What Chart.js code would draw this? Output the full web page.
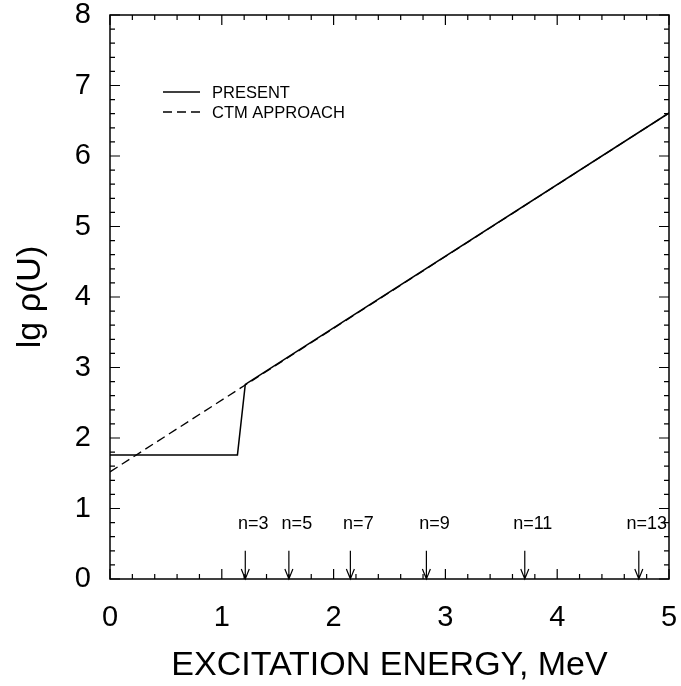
<!DOCTYPE html>
<html lang="en">
<head>
  <meta charset="UTF-8">
  <title>Level density</title>
  <script src="https://cdn.jsdelivr.net/npm/chart.js@4.4.1/dist/chart.umd.min.js"></script>
  <style>
    body { margin: 0; background: #fff; }
    #wrap { width: 681px; height: 686px; }
  </style>
</head>
<body>
  <div id="wrap"><canvas id="chart"></canvas></div>
  <script>
    // data
    const presentX = [0, 1.14, 1.21, 5];
    const presentY = [1.76, 1.76, 2.76, 6.61];
    const ctmX = [0, 5];
    const ctmY = [1.52, 6.61];
    const arrowX = [1.21, 1.60, 2.15, 2.83, 3.71, 4.73];
    const arrowLabels = ['n=3', 'n=5', 'n=7', 'n=9', 'n=11', 'n=13'];
    const xTicks = [0, 1, 2, 3, 4, 5];
    const yTicks = [0, 1, 2, 3, 4, 5, 6, 7, 8];

    const FONT = '"Liberation Sans", Arial, sans-serif';

    function pts(xs, ys) {
      return xs.map((x, i) => ({ x: x, y: ys[i] }));
    }

    // frame, inward ticks, arrows and legend
    const decor = {
      id: 'decor',
      afterDatasetsDraw(chart) {
        const { ctx, chartArea: a, scales: { x, y } } = chart;
        ctx.save();
        ctx.strokeStyle = '#000';
        ctx.lineWidth = 1.5;
        ctx.strokeRect(a.left, a.top, a.right - a.left, a.bottom - a.top);

        ctx.lineWidth = 1.2;
        ctx.beginPath();
        for (let i = 0; i <= 25; i++) {
          const px = x.getPixelForValue(i * 0.2);
          const len = (i % 5 === 0) ? 10 : 5;
          ctx.moveTo(px, a.bottom); ctx.lineTo(px, a.bottom - len);
          ctx.moveTo(px, a.top); ctx.lineTo(px, a.top + len);
        }
        for (let i = 0; i <= 40; i++) {
          const py = y.getPixelForValue(i * 0.2);
          const len = (i % 5 === 0) ? 10 : 5;
          ctx.moveTo(a.left, py); ctx.lineTo(a.left + len, py);
          ctx.moveTo(a.right, py); ctx.lineTo(a.right - len, py);
        }
        ctx.stroke();

        // arrows marking n
        ctx.font = '18px ' + FONT;
        ctx.fillStyle = '#000';
        ctx.textAlign = 'center';
        ctx.textBaseline = 'middle';
        arrowX.forEach((v, i) => {
          const px = x.getPixelForValue(v);
          const top = y.getPixelForValue(0.40);
          const bot = y.getPixelForValue(0);
          ctx.beginPath();
          ctx.moveTo(px, top); ctx.lineTo(px, bot);
          ctx.moveTo(px - 4, bot - 10); ctx.lineTo(px, bot); ctx.lineTo(px + 4, bot - 10);
          ctx.stroke();
          ctx.fillText(arrowLabels[i], px + 8, y.getPixelForValue(0.78));
        });

        // legend
        ctx.font = '16.5px ' + FONT;
        ctx.textAlign = 'left';
        chart.data.datasets.forEach((ds, i) => {
          const ly = 92 + i * 20;
          ctx.beginPath();
          ctx.lineWidth = ds.borderWidth;
          ctx.setLineDash(ds.borderDash || []);
          ctx.moveTo(163, ly); ctx.lineTo(200, ly);
          ctx.stroke();
          ctx.setLineDash([]);
          ctx.fillText(ds.label, 212, ly + 1);
        });
        ctx.restore();
      }
    };

    const chart = new Chart(document.getElementById('chart'), {
      type: 'scatter',
      data: {
        datasets: [{
          label: 'PRESENT',
          data: pts(presentX, presentY),
          showLine: true,
          borderColor: '#000',
          borderWidth: 1.5,
          pointRadius: 0
        }, {
          label: 'CTM APPROACH',
          data: pts(ctmX, ctmY),
          showLine: true,
          borderColor: '#000',
          borderWidth: 1.3,
          borderDash: [9, 5],
          pointRadius: 0
        }]
      },
      options: {
        responsive: true,
        maintainAspectRatio: false,
        animation: false,
        layout: { padding: { top: 15, right: 12, bottom: 0, left: 0 } },
        plugins: { legend: { display: false }, tooltip: { enabled: false } },
        scales: {
          x: {
            type: 'linear', min: 0, max: 5,
            afterBuildTicks: s => { s.ticks = xTicks.map(v => ({ value: v })); },
            afterFit: s => { s.height = 107; s.paddingLeft = 0; s.paddingRight = 0; },
            grid: { display: false },
            border: { display: false },
            ticks: { color: '#000', font: { family: FONT, size: 29 }, padding: 14 },
            title: {
              display: true, text: 'EXCITATION ENERGY, MeV', color: '#000',
              font: { family: FONT, size: 34 }, padding: { top: 2, bottom: 0 }
            }
          },
          y: {
            type: 'linear', min: 0, max: 8,
            afterBuildTicks: s => { s.ticks = yTicks.map(v => ({ value: v })); },
            afterFit: s => { s.width = 110; s.paddingTop = 0; s.paddingBottom = 0; },
            grid: { display: false },
            border: { display: false },
            ticks: { color: '#000', font: { family: FONT, size: 29 }, padding: 11 },
            title: {
              display: true, text: 'lg ρ(U)', color: '#000',
              font: { family: FONT, size: 34 }, padding: { top: 10, bottom: 0 }
            }
          }
        }
      },
      plugins: [decor]
    });
  </script>
</body>
</html>
